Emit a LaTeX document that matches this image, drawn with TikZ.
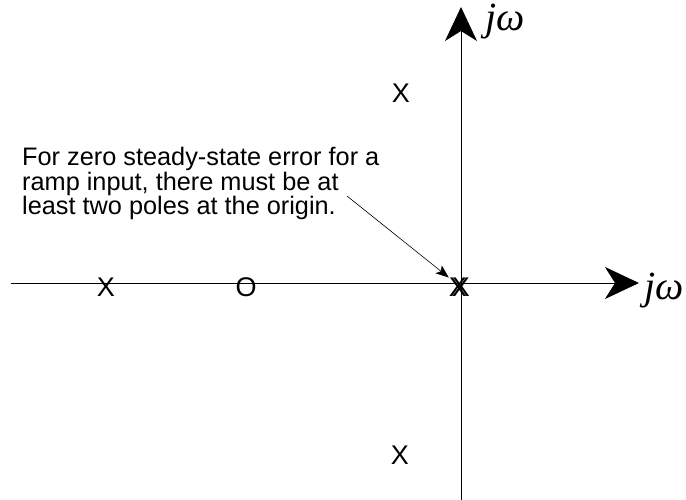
\documentclass[tikz,border=0pt]{standalone}
\usepackage{fontspec}
\setmainfont{Liberation Sans}
\newfontfamily\omfont{Liberation Serif}
\usetikzlibrary{arrows.meta}
\begin{document}
\begin{tikzpicture}[x=1pt,y=-1pt,
  axis/.style={line width=1pt},
  bigtip/.style={-{Stealth[length=34pt,width=32pt,inset=10pt]}},
  pzmark/.style={font=\fontsize{27}{27}\selectfont, inner sep=0pt},
  axlabel/.style={font=\omfont\itshape\fontsize{40}{40}\selectfont, inner sep=0pt, anchor=west},
  note/.style={font=\fontsize{25.3}{24.6}\selectfont, align=left, inner sep=0pt, anchor=north west}]
\useasboundingbox (0,0) rectangle (686,500);
\coordinate (xl) at (11,283);
\coordinate (xr) at (639,283);
\coordinate (yb) at (461,500);
\coordinate (yt) at (461,7);
\draw[axis,bigtip] (xl) -- (xr);
\draw[axis,bigtip] (yb) -- (yt);
\node[axlabel] (lt) at (485,22) {jω};
\node[axlabel] (lr) at (644,291) {jω};
\node[pzmark] (p1) at (401,93) {X};
\node[pzmark] (p2) at (400,455) {X};
\node[pzmark] (p3) at (106,287) {X};
\node[pzmark] (z1) at (246,287) {O};
\node[pzmark] (p4) at (458,287) {X};
\node[pzmark] (p5) at (461,287) {X};
\node[note] (txt) at (22,147) {For zero steady-state error for a\\ramp input, there must be at\\least two poles at the origin.};
\coordinate (a0) at (347,196);
\draw[line width=0.6pt,-{Stealth[length=13pt,width=10pt,inset=3pt]}] (a0) -- (p4.north west);
\end{tikzpicture}
\end{document}
